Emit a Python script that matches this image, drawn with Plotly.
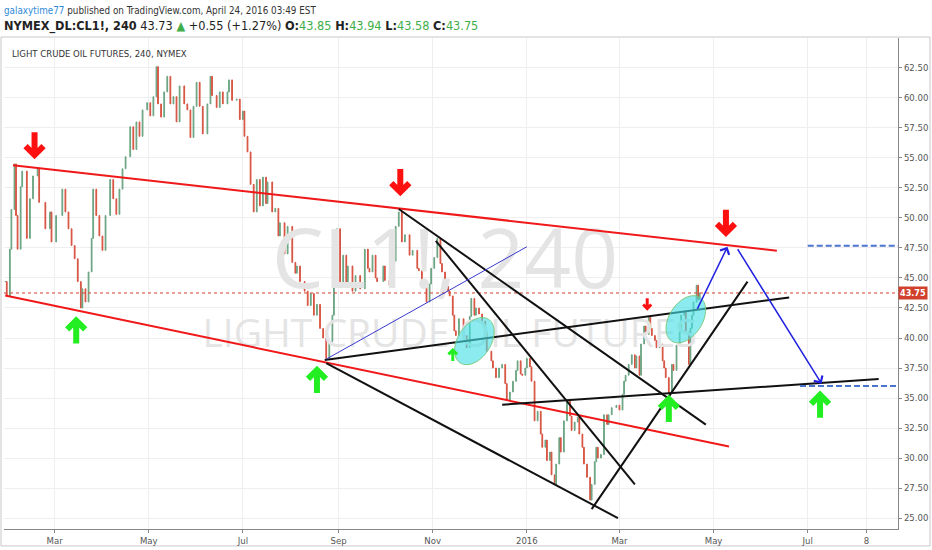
import numpy as np
import plotly.graph_objects as go

# ---------------- price data (CL1!, 240 min) ----------------
dates = [
    "2015-01-28","2015-01-29","2015-01-31","2015-02-01","2015-02-03","2015-02-04","2015-02-05","2015-02-07",
    "2015-02-08","2015-02-11","2015-02-13","2015-02-15","2015-02-18","2015-02-19","2015-02-23","2015-02-26",
    "2015-02-27","2015-03-02","2015-03-06","2015-03-08","2015-03-10","2015-03-12","2015-03-14","2015-03-16",
    "2015-03-18","2015-03-19","2015-03-21","2015-03-23","2015-03-25","2015-03-26","2015-03-28","2015-03-30",
    "2015-04-01","2015-04-03","2015-04-06","2015-04-08","2015-04-10","2015-04-12","2015-04-14","2015-04-16",
    "2015-04-19","2015-04-21","2015-04-23","2015-04-25","2015-04-27","2015-04-30","2015-05-02","2015-05-04",
    "2015-05-06","2015-05-07","2015-05-09","2015-05-11","2015-05-13","2015-05-15","2015-05-17","2015-05-19",
    "2015-05-21","2015-05-24","2015-05-26","2015-05-28","2015-05-30","2015-06-01","2015-06-03","2015-06-05",
    "2015-06-08","2015-06-10","2015-06-11","2015-06-14","2015-06-16","2015-06-18","2015-06-21","2015-06-22",
    "2015-06-24","2015-06-27","2015-06-29","2015-07-01","2015-07-02","2015-07-04","2015-07-06","2015-07-08",
    "2015-07-10","2015-07-12","2015-07-14","2015-07-16","2015-07-17","2015-07-20","2015-07-22","2015-07-24",
    "2015-07-25","2015-07-28","2015-07-30","2015-08-02","2015-08-04","2015-08-05","2015-08-07","2015-08-10",
    "2015-08-12","2015-08-14","2015-08-16","2015-08-18","2015-08-20","2015-08-22","2015-08-24","2015-08-26",
    "2015-08-28","2015-08-29","2015-08-31","2015-09-02","2015-09-04","2015-09-06","2015-09-07","2015-09-10",
    "2015-09-12","2015-09-15","2015-09-18","2015-09-20","2015-09-21","2015-09-23","2015-09-25","2015-09-26",
    "2015-09-30","2015-10-01","2015-10-04","2015-10-06","2015-10-08","2015-10-10","2015-10-12","2015-10-14",
    "2015-10-17","2015-10-19","2015-10-22","2015-10-23","2015-10-25","2015-10-28","2015-10-30","2015-10-31",
    "2015-11-02","2015-11-04","2015-11-06","2015-11-07","2015-11-09","2015-11-11","2015-11-12","2015-11-14",
    "2015-11-15","2015-11-16","2015-11-18","2015-11-21","2015-11-23","2015-11-25","2015-11-26","2015-11-28",
    "2015-11-29","2015-12-01","2015-12-03","2015-12-05","2015-12-06","2015-12-09","2015-12-10","2015-12-12",
    "2015-12-14","2015-12-16","2015-12-18","2015-12-19","2015-12-21","2015-12-23","2015-12-25","2015-12-26",
    "2015-12-28","2015-12-29","2015-12-31","2016-01-01","2016-01-03","2016-01-04","2016-01-06","2016-01-08",
    "2016-01-10","2016-01-11","2016-01-13","2016-01-14","2016-01-16","2016-01-17","2016-01-19","2016-01-20",
    "2016-01-22","2016-01-23","2016-01-25","2016-01-27","2016-01-29","2016-01-30","2016-02-01","2016-02-03",
    "2016-02-04","2016-02-06","2016-02-07","2016-02-09","2016-02-11","2016-02-12","2016-02-14","2016-02-15",
    "2016-02-16","2016-02-18","2016-02-20","2016-02-22","2016-02-23","2016-02-25","2016-02-28","2016-03-01",
    "2016-03-03","2016-03-04","2016-03-05","2016-03-07","2016-03-09","2016-03-11","2016-03-12","2016-03-14",
    "2016-03-15","2016-03-17","2016-03-18","2016-03-20","2016-03-21","2016-03-22","2016-03-24","2016-03-25",
    "2016-03-27","2016-03-29","2016-03-30","2016-03-31","2016-04-02","2016-04-04","2016-04-05","2016-04-07",
    "2016-04-09","2016-04-10","2016-04-12","2016-04-13","2016-04-15","2016-04-16","2016-04-17","2016-04-18",
    "2016-04-20","2016-04-21","2016-04-22",
]
close = [
    44.7,43.5,47.4,50.7,54.5,50.2,47.4,52.6,
    53.9,48.3,51.6,53.5,54.1,51.3,49.1,50.5,
    48.0,50.2,52.4,50.5,49.1,47.7,46.6,44.7,
    42.5,44.1,43.0,45.5,48.3,52.4,50.2,48.5,
    47.3,50.2,53.2,51.6,50.3,52.4,54.1,55.1,
    57.6,55.7,58.0,56.8,59.0,59.6,58.5,60.1,
    62.6,59.5,58.4,60.5,61.8,59.5,60.1,58.0,
    61.0,59.5,59.0,56.7,59.3,61.3,59.3,57.0,
    59.5,61.8,60.2,59.2,60.5,59.5,60.5,61.5,
    59.8,59.9,58.2,58.9,56.8,55.5,52.8,50.5,
    53.2,51.0,53.4,51.2,53.0,50.5,50.8,48.5,
    49.6,47.0,49.3,46.3,45.4,46.0,44.7,43.9,
    42.7,43.7,41.9,42.8,40.8,40.0,38.3,39.7,
    41.9,44.5,49.1,44.4,46.9,44.6,46.0,43.9,
    45.2,44.1,47.4,45.8,45.5,46.9,45.0,44.7,
    46.0,44.8,44.4,46.4,49.3,50.5,48.0,48.6,
    46.9,47.3,45.8,45.6,44.4,43.0,44.5,45.8,
    46.7,48.3,46.2,45.5,44.3,43.9,43.5,41.9,
    40.6,40.2,41.6,40.2,39.2,41.8,43.3,41.9,
    42.5,42.0,41.4,40.5,38.9,38.1,37.5,36.7,
    37.5,37.8,36.2,34.8,35.5,36.4,37.3,38.1,
    37.0,36.9,37.5,38.3,37.6,36.4,33.1,33.9,
    32.0,30.9,31.5,29.8,30.5,28.6,27.8,29.5,
    31.7,30.5,33.1,34.8,33.5,32.3,33.0,33.4,
    32.0,30.9,29.5,28.4,26.5,27.8,29.7,30.9,
    30.0,30.3,33.6,32.8,33.6,34.2,34.4,34.0,
    35.3,36.4,36.9,37.8,38.6,37.5,38.5,36.9,
    39.5,41.0,40.3,41.8,40.8,40.2,39.8,39.2,
    39.5,38.1,37.5,36.7,35.4,37.8,37.3,39.4,
    40.5,41.9,42.2,40.5,37.8,40.8,41.9,43.0,
    44.4,43.2,43.75,
]
last_price = 43.75

# ---------------- axis labels ----------------
x_tick_dates = ["2015-03-01","2015-05-01","2015-07-01","2015-09-01","2015-11-01",
                "2016-01-01","2016-03-01","2016-05-01","2016-07-01","2016-08-08"]
x_tick_text = ["Mar","May","Jul","Sep","Nov","2016","Mar","May","Jul","8"]
y_tick_vals = [25.0,27.5,30.0,32.5,35.0,37.5,40.0,42.5,45.0,47.5,50.0,52.5,55.0,57.5,60.0,62.5]

# ---------------- drawings (date, price) ----------------
red_lines = [
    ("2015-02-02", 54.39, "2016-06-11", 47.27),
    ("2015-01-28", 43.54, "2016-05-11", 30.96),
]
black_lines = [
    ("2015-08-23", 38.16, "2016-06-19", 43.38),
    ("2015-08-24", 37.91, "2016-02-29", 25.00),
    ("2015-10-10", 50.75, "2016-04-26", 32.78),
    ("2015-11-03", 48.10, "2016-03-11", 27.81),
    ("2015-12-16", 34.44, "2016-08-16", 36.59),
    ("2016-02-12", 25.75, "2016-05-23", 44.70),
]
blue_thin_lines = [
    ("2015-08-24", 38.24, "2016-01-01", 47.60),
]
blue_arrows = [  # tail -> head
    ("2016-04-20", 42.30, "2016-05-10", 47.60),
    ("2016-05-16", 47.52, "2016-07-10", 36.18),
]
blue_dashed_levels = [("2016-07-01", 47.68), ("2016-06-26", 36.01)]
red_down_arrows = [("2015-02-16", 54.9), ("2015-10-11", 51.82), ("2016-05-09", 48.43)]
red_small_down_arrows = [("2016-03-19", 42.30)]
green_up_arrows = [("2015-03-15", 41.80), ("2015-08-18", 37.67), ("2016-04-02", 35.26), ("2016-07-09", 35.60)]
green_small_up_arrows = [("2015-11-14", 39.16)]
ellipses = [("2015-11-28", 39.74), ("2016-04-13", 41.56)]

X_RANGE = ["2015-01-27 05:00", "2016-08-28 12:00"]
Y_RANGE = [24.09, 64.99]

# ---------------- build figure ----------------
opens = [close[0]] + close[:-1]
highs = [max(o, c) for o, c in zip(opens, close)]
lows = [min(o, c) for o, c in zip(opens, close)]

NARROW = "Liberation Sans Narrow, DejaVu Sans Condensed, Arial Narrow, sans-serif"
UP, DOWN = "#6ba583", "#d75442"

fig = go.Figure()

# watermark (behind candles)
fig.add_trace(go.Scatter(x=["2015-11-09"], y=[45.9], mode="text", text=["CL1!, 240"],
                         textfont=dict(size=82, color="#e4e4e4", family="Open Sans"),
                         hoverinfo="skip"))
fig.add_trace(go.Scatter(x=["2015-11-12"], y=[40.1], mode="text", text=["LIGHT CRUDE OIL FUTURES"],
                         textfont=dict(size=39, color="#e4e4e4", family="Open Sans"),
                         hoverinfo="skip"))

fig.add_trace(go.Candlestick(
    x=dates, open=opens, high=highs, low=lows, close=close,
    increasing=dict(line=dict(color=UP, width=1), fillcolor=UP),
    decreasing=dict(line=dict(color=DOWN, width=1), fillcolor=DOWN),
    whiskerwidth=0, hoverinfo="skip"))

shapes = []
# current price dotted line
shapes.append(dict(type="line", xref="paper", yref="y", x0=0, x1=1, y0=last_price, y1=last_price,
                   line=dict(color="#d0402c", width=1, dash="dot")))
for d0, p0, d1, p1 in red_lines:
    shapes.append(dict(type="line", xref="x", yref="y", x0=d0, y0=p0, x1=d1, y1=p1,
                       line=dict(color="#f01818", width=2)))
for d0, p0, d1, p1 in black_lines:
    shapes.append(dict(type="line", xref="x", yref="y", x0=d0, y0=p0, x1=d1, y1=p1,
                       line=dict(color="#111111", width=2)))
for d0, p0, d1, p1 in blue_thin_lines:
    shapes.append(dict(type="line", xref="x", yref="y", x0=d0, y0=p0, x1=d1, y1=p1,
                       line=dict(color="#3a3ad0", width=1)))
for d0, p0 in blue_dashed_levels:
    shapes.append(dict(type="line", xref="x", yref="y", x0=d0, y0=p0, x1=X_RANGE[1], y1=p0,
                       line=dict(color="#4a74d0", width=2, dash="6px,3px")))


def ellipse_path(a, b, theta_deg, n=60):
    t = np.linspace(0, 2 * np.pi, n, endpoint=False)
    th = np.radians(theta_deg)
    xs = a * np.cos(t) * np.cos(th) - b * np.sin(t) * np.sin(th)
    ys = a * np.cos(t) * np.sin(th) + b * np.sin(t) * np.cos(th)
    return "M" + "L".join(f"{x:.2f},{y:.2f}" for x, y in zip(xs, ys)) + "Z"


for d, p in ellipses:
    shapes.append(dict(type="path", xref="x", yref="y", xsizemode="pixel", ysizemode="pixel",
                       xanchor=d, yanchor=p, path=ellipse_path(26, 16.5, 57),
                       fillcolor="rgba(70,222,228,0.62)", line=dict(color="rgba(120,200,120,0.9)", width=1)))


def arrow_path(s, up):
    sg = -1 if up else 1
    pts = [(-9, 13), (0, 4), (9, 13)]
    stem = [(0, 5), (0, 27)]
    f = lambda x, y: f"{x * s:.2f},{sg * y * s:.2f}"
    return ("M" + f(*pts[0]) + "L" + f(*pts[1]) + "L" + f(*pts[2]) +
            "M" + f(*stem[0]) + "L" + f(*stem[1]))


for lst, col, s, up, w in [(red_down_arrows, "#ff1010", 1.0, False, 6),
                           (red_small_down_arrows, "#ff1010", 0.45, False, 3),
                           (green_up_arrows, "#22ee22", 1.0, True, 6),
                           (green_small_up_arrows, "#22ee22", 0.48, True, 3)]:
    for d, p in lst:
        shapes.append(dict(type="path", xref="x", yref="y", xsizemode="pixel", ysizemode="pixel",
                           xanchor=d, yanchor=p, path=arrow_path(s, up),
                           line=dict(color=col, width=w)))

# chart frame
shapes.append(dict(type="rect", xref="paper", yref="paper", x0=-3 / 895, x1=927 / 895,
                   y0=-17 / 493, y1=494 / 493, line=dict(color="#c8c8c8", width=1), layer="below"))

annotations = []
for d0, p0, d1, p1 in blue_arrows:
    annotations.append(dict(x=d1, y=p1, ax=d0, ay=p0, xref="x", yref="y", axref="x", ayref="y",
                            text="", showarrow=True, arrowhead=4, arrowsize=1.3, arrowwidth=1.5,
                            arrowcolor="#2222e0"))

# header
annotations.append(dict(xref="paper", yref="paper", x=-2 / 895, y=(531 - 10) / 493, xanchor="left", yanchor="middle",
                        showarrow=False, align="left",
                        text="<span style='color:#2e8ad8'>galaxytime77</span> published on TradingView.com, April 24, 2016 03:49 EST",
                        font=dict(family=NARROW, size=9.8, color="#333333")))
G = "#3fae49"
annotations.append(dict(xref="paper", yref="paper", x=-2 / 895, y=(531 - 26) / 493, xanchor="left", yanchor="middle",
                        showarrow=False, align="left",
                        text=("<b>NYMEX_DL:CL1!, 240</b> 43.73 <span style='color:%s'>▲</span> +0.55 (+1.27%%) "
                              "<b>O:</b><span style='color:%s'>43.85</span> <b>H:</b><span style='color:%s'>43.94</span> "
                              "<b>L:</b><span style='color:%s'>43.58</span> <b>C:</b><span style='color:%s'>43.75</span>")
                        % (G, G, G, G, G),
                        font=dict(family=NARROW, size=12.6, color="#222222")))
annotations.append(dict(xref="paper", yref="paper", x=6 / 895, y=(531 - 54) / 493, xanchor="left", yanchor="middle",
                        showarrow=False, text="LIGHT CRUDE OIL FUTURES, 240, NYMEX",
                        font=dict(family=NARROW, size=9.5, color="#333333")))
# last price label on the scale
annotations.append(dict(xref="paper", yref="y", x=1.0, y=last_price, xanchor="left", yanchor="middle",
                        showarrow=False, text="<b>%.2f</b>" % last_price, bgcolor="#d0402c",
                        font=dict(family=NARROW, size=9, color="white"), borderpad=1))

fig.update_layout(
    width=932, height=550, margin=dict(l=4, r=33, t=38, b=19),
    paper_bgcolor="white", plot_bgcolor="white", showlegend=False,
    shapes=shapes, annotations=annotations,
    xaxis=dict(type="date", range=X_RANGE, rangeslider=dict(visible=False),
               tickvals=x_tick_dates, ticktext=x_tick_text, showgrid=True, gridcolor="#eeeeee",
               ticks="outside", ticklen=3, tickcolor="#888888", showline=True, linecolor="#888888",
               tickfont=dict(family=NARROW, size=9.5, color="#555555"), zeroline=False, fixedrange=True),
    yaxis=dict(side="right", range=Y_RANGE, tickvals=y_tick_vals, ticktext=["%.2f" % v for v in y_tick_vals],
               showgrid=True, gridcolor="#eeeeee", ticks="outside", ticklen=3, tickcolor="#888888",
               showline=True, linecolor="#888888", tickfont=dict(family=NARROW, size=9.5, color="#555555"),
               zeroline=False, fixedrange=True),
)

fig.write_html("out.html", config={"displayModeBar": False},
               post_script="document.body.style.margin='0px';document.body.style.overflow='hidden';")
